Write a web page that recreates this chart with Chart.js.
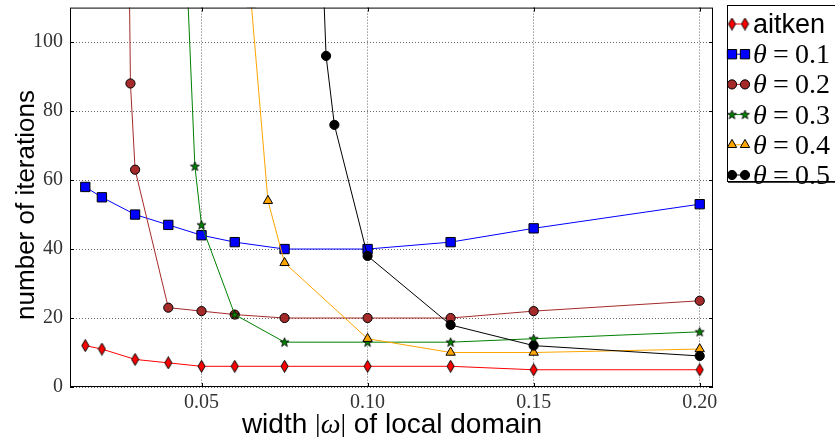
<!DOCTYPE html>
<html>
<head>
<meta charset="utf-8">
<script src="https://cdn.jsdelivr.net/npm/chart.js@4.4.1/dist/chart.umd.min.js"></script>
<style>
  html, body { margin: 0; padding: 0; background: #fff; }
  #wrap { width: 835px; height: 437px; }
</style>
</head>
<body>
<div id="wrap"><canvas id="chart" width="835" height="437"></canvas></div>
<script>
// tick labels
const xTicks = [0.05, 0.10, 0.15, 0.20];
const yTicks = [0, 20, 40, 60, 80, 100];

// widths |omega| and iteration counts per series
const aitkenX = [0.015, 0.02, 0.03, 0.04, 0.05, 0.06, 0.075, 0.1, 0.125, 0.15, 0.2];
const aitkenY = [12, 11, 8, 7, 6, 6, 6, 6, 6, 5, 5];
const theta1X = [0.015, 0.02, 0.03, 0.04, 0.05, 0.06, 0.075, 0.1, 0.125, 0.15, 0.2];
const theta1Y = [58, 55, 50, 47, 44, 42, 40, 40, 42, 46, 53];
const theta2X = [0.025, 0.0286, 0.03, 0.04, 0.05, 0.06, 0.075, 0.1, 0.125, 0.15, 0.2];
const theta2Y = [400, 88, 63, 23, 22, 21, 20, 20, 20, 22, 25];
const theta3X = [0.045, 0.048, 0.05, 0.06, 0.075, 0.1, 0.125, 0.15, 0.2];
const theta3Y = [133, 64, 47, 21, 13, 13, 13, 14, 16];
const theta4X = [0.065, 0.07, 0.075, 0.1, 0.125, 0.15, 0.2];
const theta4Y = [111, 54, 36, 14, 10, 10, 11];
const theta5X = [0.085, 0.0875, 0.09, 0.1, 0.125, 0.15, 0.2];
const theta5Y = [160, 96, 76, 38, 18, 12, 9];

const seriesNames = ['aitken', '0.1', '0.2', '0.3', '0.4', '0.5'];

function thinDiamond(color) {
    const c = document.createElement('canvas');
    c.width = 9; c.height = 13;
    const g = c.getContext('2d');
    g.beginPath();
    g.moveTo(4.5, 0.5); g.lineTo(8, 6.5); g.lineTo(4.5, 12.5); g.lineTo(1, 6.5);
    g.closePath();
    g.fillStyle = color; g.fill();
    g.lineWidth = 1; g.strokeStyle = '#000'; g.stroke();
    return c;
}

function starMarker(color) {
    const c = document.createElement('canvas');
    c.width = 11; c.height = 11;
    const g = c.getContext('2d');
    g.beginPath();
    for (let i = 0; i < 10; i++) {
        const r = i % 2 ? 2 : 4.8;
        const a = -Math.PI / 2 + i * Math.PI / 5;
        const px = 5.5 + r * Math.cos(a), py = 5.8 + r * Math.sin(a);
        if (i === 0) g.moveTo(px, py); else g.lineTo(px, py);
    }
    g.closePath();
    g.fillStyle = color; g.fill();
    g.lineWidth = 0.8; g.strokeStyle = '#000'; g.stroke();
    return c;
}

const styles = [
    { color: '#ff0000', point: thinDiamond('#ff0000'), radius: 5 },
    { color: '#0000ff', point: 'rect', radius: 6.6 },
    { color: '#a52a2a', point: 'circle', radius: 4.6 },
    { color: '#008000', point: starMarker('#008000'), radius: 5 },
    { color: '#ffa500', point: 'triangle', radius: 5.4 },
    { color: '#000000', point: 'circle', radius: 4.6 }
];

const xsList = [aitkenX, theta1X, theta2X, theta3X, theta4X, theta5X];
const ysList = [aitkenY, theta1Y, theta2Y, theta3Y, theta4Y, theta5Y];

const datasets = xsList.map((xs, i) => ({
    label: seriesNames[i],
    data: xs.map((x, j) => ({ x, y: ysList[i][j] })),
    borderColor: styles[i].color,
    borderWidth: 1,
    pointStyle: styles[i].point,
    pointRadius: styles[i].radius,
    pointHoverRadius: styles[i].radius,
    pointBackgroundColor: styles[i].color,
    pointBorderColor: '#000',
    pointBorderWidth: 1,
    tension: 0,
    fill: false,
    clip: 0,
    order: xsList.length - i
}));

const frameAndLegend = {
    id: 'frameAndLegend',
    afterDraw(chart) {
        const { ctx, chartArea: a } = chart;
        const xs = chart.scales.x, ys = chart.scales.y;
        ctx.save();
        // frame
        ctx.strokeStyle = '#000';
        ctx.lineWidth = 1;
        ctx.strokeRect(a.left + 0.5, a.top + 0.5, a.right - a.left - 1, a.bottom - a.top - 1);
        // inward ticks on all sides
        ctx.beginPath();
        xTicks.forEach(v => {
            const px = Math.round(xs.getPixelForValue(v)) + 0.5;
            ctx.moveTo(px, a.bottom); ctx.lineTo(px, a.bottom - 4);
            ctx.moveTo(px, a.top); ctx.lineTo(px, a.top + 4);
        });
        yTicks.forEach(v => {
            const py = Math.round(ys.getPixelForValue(v)) + 0.5;
            ctx.moveTo(a.left, py); ctx.lineTo(a.left + 4, py);
            ctx.moveTo(a.right, py); ctx.lineTo(a.right - 4, py);
        });
        ctx.stroke();

        // axis titles
        ctx.fillStyle = '#000';
        ctx.textBaseline = 'alphabetic';
        const sans = '28px "Liberation Sans", Arial, sans-serif';
        const serif = '28px "Liberation Serif", serif';
        const serifIt = 'italic 28px "Liberation Serif", serif';
        const parts = [[sans, 'width '], [serif, '|'], [serifIt, 'ω'], [serif, '|'], [sans, ' of local domain']];
        let total = 0;
        parts.forEach(p => { ctx.font = p[0]; total += ctx.measureText(p[1]).width; });
        let tx = 392 - total / 2;
        parts.forEach(p => { ctx.font = p[0]; ctx.fillText(p[1], tx, 433); tx += ctx.measureText(p[1]).width; });

        ctx.save();
        ctx.translate(34, 205);
        ctx.rotate(-Math.PI / 2);
        ctx.font = '26px "Liberation Sans", Arial, sans-serif';
        ctx.textAlign = 'center';
        ctx.fillText('number of iterations', 0, 0);
        ctx.restore();

        // legend
        const lx = 727, ly = 5, lh = 176;
        ctx.fillStyle = '#fff';
        ctx.fillRect(lx, ly, 120, lh);
        ctx.strokeStyle = '#000';
        ctx.lineWidth = 1;
        ctx.strokeRect(lx + 0.5, ly + 0.5, 120, lh);
        ctx.lineWidth = 1.5;
        ctx.beginPath(); ctx.moveTo(lx + 1, ly + lh + 1); ctx.lineTo(lx + 120, ly + lh + 1); ctx.stroke();
        chart.data.datasets.forEach((ds, i) => {
            const cy = 24 + i * 30.2;
            ctx.strokeStyle = ds.borderColor;
            ctx.lineWidth = 1;
            ctx.beginPath(); ctx.moveTo(732, cy); ctx.lineTo(745, cy); ctx.stroke();
            [732, 745].forEach(mx => {
                ctx.fillStyle = ds.pointBackgroundColor;
                ctx.strokeStyle = '#000';
                ctx.lineWidth = 1;
                Chart.helpers.drawPoint(ctx, { pointStyle: ds.pointStyle, radius: ds.pointRadius, rotation: 0, borderWidth: 1 }, mx, cy);
            });
            ctx.fillStyle = '#000';
            ctx.textAlign = 'left';
            ctx.textBaseline = 'alphabetic';
            const base = cy + 9;
            if (i === 0) {
                ctx.font = '27px "Liberation Sans", Arial, sans-serif';
                ctx.fillText('aitken', 753, base);
            } else {
                ctx.font = 'italic 28px "Liberation Serif", serif';
                ctx.fillText('θ', 753, base);
                ctx.font = '28px "Liberation Serif", serif';
                ctx.fillText('=', 773, base);
                ctx.fillText(ds.label, 795, base);
            }
        });
        ctx.restore();
    }
};

new Chart(document.getElementById('chart').getContext('2d'), {
    type: 'line',
    data: { datasets },
    options: {
        responsive: false,
        devicePixelRatio: 1,
        animation: false,
        layout: { padding: { top: 5, right: 122, left: 0, bottom: 0 } },
        plugins: { legend: { display: false }, tooltip: { enabled: false } },
        scales: {
            x: {
                type: 'linear',
                min: 0.0104,
                max: 0.204,
                afterBuildTicks: s => { s.ticks = xTicks.map(v => ({ value: v })); },
                afterFit: s => { s.height = 50; s.paddingLeft = 0; s.paddingRight = 0; },
                border: { display: false, dash: [1, 2] },
                grid: { color: 'rgba(0,0,0,0.6)', drawTicks: false },
                ticks: {
                    padding: 4,
                    color: '#333',
                    font: { family: '"Liberation Serif", serif', size: 20 },
                    callback: v => v.toFixed(2)
                }
            },
            y: {
                min: 0,
                max: 110,
                afterBuildTicks: s => { s.ticks = yTicks.map(v => ({ value: v })); },
                afterFit: s => { s.width = 70; s.paddingTop = 0; s.paddingBottom = 0; },
                border: { display: false, dash: [1, 2] },
                grid: { color: 'rgba(0,0,0,0.6)', drawTicks: false },
                ticks: {
                    padding: 7,
                    color: '#333',
                    font: { family: '"Liberation Serif", serif', size: 20 }
                }
            }
        }
    },
    plugins: [frameAndLegend]
});
</script>
</body>
</html>
